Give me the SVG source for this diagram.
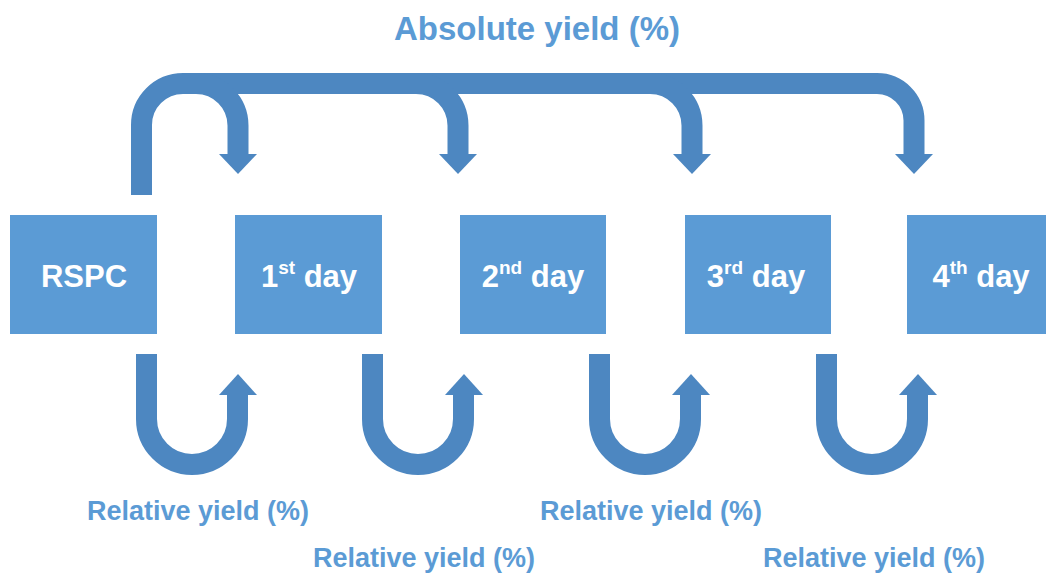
<svg xmlns="http://www.w3.org/2000/svg" width="1046" height="579" viewBox="0 0 1046 579">
<style>
.box{fill:#5B9BD5;}
.lbl{font-family:"Liberation Sans",Arial,sans-serif;font-weight:bold;font-size:31px;fill:#FFFFFF;text-anchor:middle;}
.sup{font-size:19px;}
.cap{font-family:"Liberation Sans",Arial,sans-serif;font-weight:bold;fill:#5B9BD5;}
.arr{fill:none;stroke:#4D87C1;stroke-width:21;}
.head{fill:#4D87C1;}
</style>
<rect width="1046" height="579" fill="#FFFFFF"/>
<g id="connectors">
  <path class="arr" d="M141.5,195 V125 A41.5,41.5 0 0 1 183,83.5 H877 A37,37 0 0 1 914,120.5 V156"/>
  <polygon class="head" points="895,154 933,154 914,174"/>
  <path class="arr" d="M196,83.5 A42,42 0 0 1 238,125.5 V156"/>
  <polygon class="head" points="219,154 257,154 238,174"/>
  <path class="arr" d="M416,83.5 A42,42 0 0 1 458,125.5 V156"/>
  <polygon class="head" points="439,154 477,154 458,174"/>
  <path class="arr" d="M650,83.5 A42,42 0 0 1 692,125.5 V156"/>
  <polygon class="head" points="673,154 711,154 692,174"/>
  <path class="arr" d="M146.5,354 V419 A45.5,45.5 0 0 0 237.5,419 V393"/>
  <polygon class="head" points="219,395 257,395 238,374"/>
  <path class="arr" d="M372.5,354 V419 A45.5,45.5 0 0 0 463.5,419 V393"/>
  <polygon class="head" points="445,395 483,395 464,374"/>
  <path class="arr" d="M599.5,354 V419 A45.5,45.5 0 0 0 690.5,419 V393"/>
  <polygon class="head" points="672,395 710,395 691,374"/>
  <path class="arr" d="M826.5,354 V419 A45.5,45.5 0 0 0 917.5,419 V393"/>
  <polygon class="head" points="899,395 937,395 918,374"/>
</g>
<g id="node-rspc">
  <rect class="box" x="10" y="215" width="147" height="119"/>
  <text class="lbl" x="84" y="287">RSPC</text>
</g>
<g id="node-day1">
  <rect class="box" x="235" y="215" width="147" height="119"/>
  <text class="lbl" x="309" y="287">1<tspan class="sup" dy="-13">st</tspan><tspan dy="13"> day</tspan></text>
</g>
<g id="node-day2">
  <rect class="box" x="460" y="215" width="146" height="119"/>
  <text class="lbl" x="533" y="287">2<tspan class="sup" dy="-13">nd</tspan><tspan dy="13"> day</tspan></text>
</g>
<g id="node-day3">
  <rect class="box" x="685" y="215" width="146" height="119"/>
  <text class="lbl" x="756" y="287">3<tspan class="sup" dy="-13">rd</tspan><tspan dy="13"> day</tspan></text>
</g>
<g id="node-day4">
  <rect class="box" x="907" y="215" width="147" height="119"/>
  <text class="lbl" x="981" y="287">4<tspan class="sup" dy="-13">th</tspan><tspan dy="13"> day</tspan></text>
</g>
<g id="labels">
  <text class="cap" x="537" y="40" font-size="33" text-anchor="middle">Absolute yield (%)</text>
  <text class="cap" x="198" y="520" font-size="27" text-anchor="middle">Relative yield (%)</text>
  <text class="cap" x="424" y="567" font-size="27" text-anchor="middle">Relative yield (%)</text>
  <text class="cap" x="651" y="520" font-size="27" text-anchor="middle">Relative yield (%)</text>
  <text class="cap" x="874" y="567" font-size="27" text-anchor="middle">Relative yield (%)</text>
</g>
</svg>
